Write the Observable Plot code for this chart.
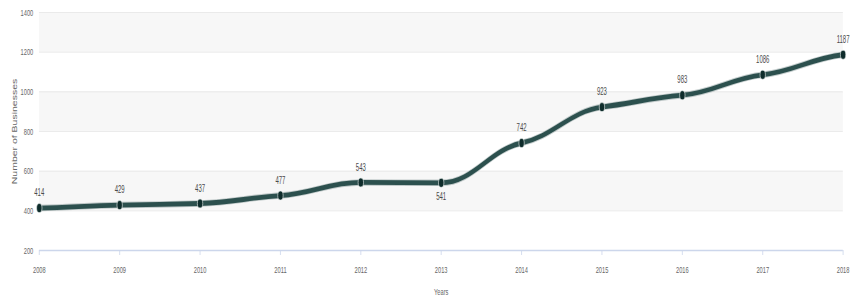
<!DOCTYPE html>
<html>
<head>
<meta charset="utf-8">
<script src="https://cdn.jsdelivr.net/npm/d3@7"></script>
<script src="https://cdn.jsdelivr.net/npm/@observablehq/plot@0.6"></script>
<style>
  html, body { margin: 0; padding: 0; background: #fff; }
  svg { display: block; }
</style>
</head>
<body>
<div id="chart"></div>
<script>
const years = [2008, 2009, 2010, 2011, 2012, 2013, 2014, 2015, 2016, 2017, 2018];
const businesses = [414, 429, 437, 477, 543, 541, 742, 923, 983, 1086, 1187];
const yTicks = [200, 400, 600, 800, 1000, 1200, 1400];
const bandStarts = [400, 800, 1200];
const bandSize = 200;

const data = years.map((year, i) => ({
  year,
  value: businesses[i],
  dip: i > 0 && businesses[i] < businesses[i - 1]
}));
const bands = bandStarts.map(b => ({ y1: b, y2: b + bandSize }));

// The reference is a wide chart squeezed horizontally into 850px.
const OUT_W = 850, H = 297;
const SQUEEZE = 0.6;
const W = Math.round(OUT_W / SQUEEZE);

const font = "'Liberation Sans', Arial, sans-serif";

// Spline with softened tangents (flattening at each point), clamped like a Highcharts spline.
function SoftSpline(context) { this._context = context; }
SoftSpline.prototype = {
  areaStart() { this._line = 0; },
  areaEnd() { this._line = NaN; },
  lineStart() { this._pts = []; },
  point(x, y) { this._pts.push([+x, +y]); },
  lineEnd() {
    const p = this._pts, n = p.length, c = this._context;
    if (!n) return;
    c.moveTo(p[0][0], p[0][1]);
    if (n === 1) return;
    const f = 0.45, k = 0.4;
    const L = [], R = [];
    for (let i = 0; i < n; i++) {
      const [x, y] = p[i];
      let s;
      if (i === 0) s = f * (p[1][1] - y) / (p[1][0] - x);
      else if (i === n - 1) s = f * (y - p[i - 1][1]) / (x - p[i - 1][0]);
      else s = f * (p[i + 1][1] - p[i - 1][1]) / (p[i + 1][0] - p[i - 1][0]);
      const al = i > 0 ? k * (x - p[i - 1][0]) : 0;
      const ar = i < n - 1 ? k * (p[i + 1][0] - x) : 0;
      let ly = y - s * al, ry = y + s * ar;
      if (i > 0) {
        const lo = Math.min(p[i - 1][1], y), hi = Math.max(p[i - 1][1], y);
        if (ly < lo || ly > hi) { ly = Math.max(lo, Math.min(hi, ly)); s = al ? (y - ly) / al : 0; ry = y + s * ar; }
      }
      if (i < n - 1) {
        const lo = Math.min(p[i + 1][1], y), hi = Math.max(p[i + 1][1], y);
        if (ry < lo || ry > hi) { ry = Math.max(lo, Math.min(hi, ry)); s = ar ? (ry - y) / ar : 0; ly = y - s * al; }
      }
      L.push([x - al, ly]);
      R.push([x + ar, ry]);
    }
    for (let i = 1; i < n; i++) {
      c.bezierCurveTo(R[i - 1][0], R[i - 1][1], L[i][0], L[i][1], p[i][0], p[i][1]);
    }
  }
};
const spline = ctx => new SoftSpline(ctx);

const chart = Plot.plot({
  width: W,
  height: H,
  marginLeft: 65,
  marginRight: 12,
  marginTop: 12,
  marginBottom: 47,
  style: { fontFamily: font, fontSize: "9.5px", color: "#666", background: "#fff" },
  x: { domain: [2008, 2018] },
  y: { domain: [200, 1400] },
  marks: [
    Plot.rect(bands, { y1: "y1", y2: "y2", fill: "#f7f7f7" }),
    Plot.ruleY(yTicks.filter(t => t > 200), { stroke: "#e6e6e6", strokeWidth: 1 }),
    Plot.ruleY([200], { stroke: "#ccd6eb", strokeWidth: 1.5 }),
    Plot.axisY({
      ticks: yTicks, tickSize: 0, tickPadding: 10, tickFormat: d => String(d),
      fill: "#666", fontSize: 9.5,
      label: null
    }),
    Plot.axisY({
      ticks: [], label: "Number of Businesses", labelAnchor: "center", labelArrow: "none",
      labelOffset: 45, fill: "#666", fontSize: 10.5
    }),
    Plot.axisX({
      ticks: years, tickSize: 5, tickPadding: 11, tickFormat: d => String(d),
      stroke: "#ccd6eb", fill: "#666", fontSize: 9.5,
      label: "Years", labelAnchor: "center", labelArrow: "none", labelOffset: 44
    }),
    Plot.line(data, { x: "year", y: "value", curve: spline, stroke: "#7d9190", strokeWidth: 6.5, strokeOpacity: 0.45 }),
    Plot.line(data, { x: "year", y: "value", curve: spline, stroke: "#2c504e", strokeWidth: 4.8 }),
    Plot.dot(data, { x: "year", y: "value", r: 4.5, fill: "#0e2c2b", stroke: "#e4eae9", strokeWidth: 0.8 }),
    Plot.text(data.filter(d => !d.dip), { x: "year", y: "value", text: d => String(d.value), dy: -15, fill: "#4a4a4a", fontSize: 10 }),
    Plot.text(data.filter(d => d.dip), { x: "year", y: "value", text: d => String(d.value), dy: 14, fill: "#4a4a4a", fontSize: 10 })
  ]
});

chart.setAttribute("viewBox", `0 0 ${W} ${H}`);
chart.setAttribute("preserveAspectRatio", "none");
chart.setAttribute("width", OUT_W);
chart.setAttribute("height", H);
chart.style.width = OUT_W + "px";
chart.style.height = H + "px";
chart.style.maxWidth = "none";
document.getElementById("chart").appendChild(chart);
</script>
</body>
</html>
